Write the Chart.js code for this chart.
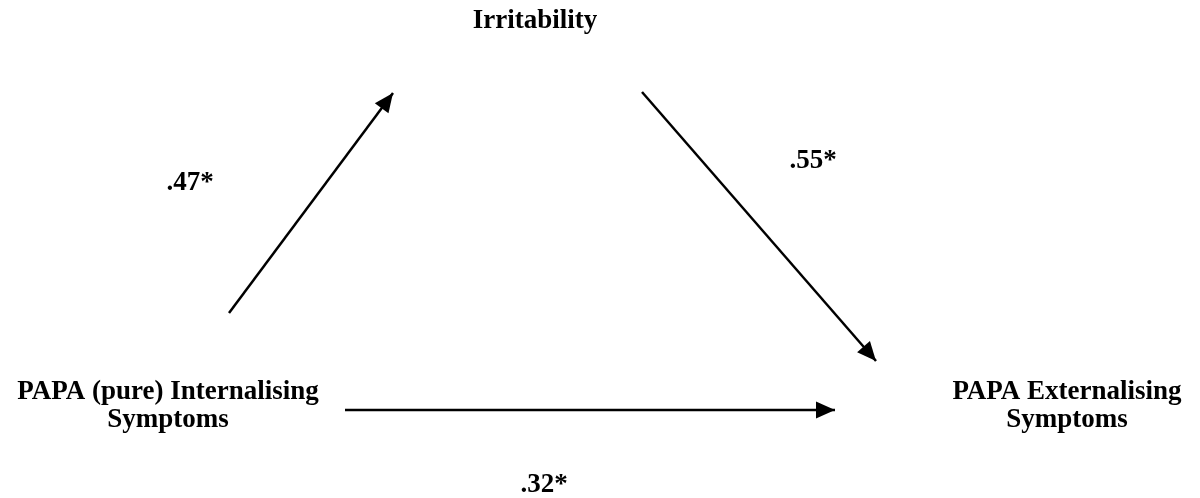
<!DOCTYPE html>
<html>
<head>
<meta charset="utf-8">
<script src="https://cdn.jsdelivr.net/npm/chart.js@4"></script>
<style>
  body { margin: 0; background: #fff; }
  #wrap { width: 1200px; height: 498px; }
</style>
</head>
<body>
<div id="wrap"><canvas id="myChart"></canvas></div>
<script>
// path model: nodes, paths and coefficients
const nodeNames = [['Irritability'], ['PAPA (pure) Internalising', 'Symptoms'], ['PAPA Externalising', 'Symptoms']];
const nodeX = [535, 168, 1067];
const nodeY = [28, 399, 399];

const pathStartX = [229, 642, 345];
const pathStartY = [313, 92, 410];
const pathEndX = [393, 876, 835];
const pathEndY = [93, 361, 410];

const coefficients = ['.47*', '.55*', '.32*'];
const coefX = [190, 813, 544];
const coefY = [190, 168, 492];

const ctx = document.getElementById('myChart');
const FONT = 'bold 27px "Liberation Serif", "Times New Roman", serif';

const datasets = pathStartX.map((x, i) => ({
  data: [{ x: x, y: pathStartY[i] }, { x: pathEndX[i], y: pathEndY[i] }],
  showLine: true,
  borderColor: '#000',
  borderWidth: 2.5,
  pointRadius: 0,
  fill: false
}));

const diagramPlugin = {
  id: 'diagram',
  afterDatasetsDraw(chart) {
    const c = chart.ctx;
    const xs = chart.scales.x, ys = chart.scales.y;
    c.save();
    // arrow heads
    c.fillStyle = '#000';
    pathEndX.forEach((ex, i) => {
      const x1 = xs.getPixelForValue(pathStartX[i]), y1 = ys.getPixelForValue(pathStartY[i]);
      const x2 = xs.getPixelForValue(ex), y2 = ys.getPixelForValue(pathEndY[i]);
      const a = Math.atan2(y2 - y1, x2 - x1);
      const len = 19, half = 8.5;
      c.beginPath();
      c.moveTo(x2, y2);
      c.lineTo(x2 - len * Math.cos(a) + half * Math.sin(a), y2 - len * Math.sin(a) - half * Math.cos(a));
      c.lineTo(x2 - len * Math.cos(a) - half * Math.sin(a), y2 - len * Math.sin(a) + half * Math.cos(a));
      c.closePath();
      c.fill();
    });
    // labels (y = baseline)
    c.font = FONT;
    c.textAlign = 'center';
    c.textBaseline = 'alphabetic';
    nodeNames.forEach((lines, i) => {
      const px = xs.getPixelForValue(nodeX[i]);
      const py = ys.getPixelForValue(nodeY[i]);
      lines.forEach((t, j) => c.fillText(t, px, py + j * 28));
    });
    coefficients.forEach((t, i) => {
      c.fillText(t, xs.getPixelForValue(coefX[i]), ys.getPixelForValue(coefY[i]));
    });
    c.restore();
  }
};

new Chart(ctx, {
  type: 'scatter',
  data: { datasets: datasets },
  options: {
    responsive: true,
    maintainAspectRatio: false,
    animation: false,
    layout: { padding: 0 },
    plugins: { legend: { display: false }, tooltip: { enabled: false } },
    scales: {
      x: { type: 'linear', min: 0, max: 1200, display: false },
      y: { type: 'linear', min: 0, max: 498, reverse: true, display: false }
    }
  },
  plugins: [diagramPlugin]
});
</script>
</body>
</html>
